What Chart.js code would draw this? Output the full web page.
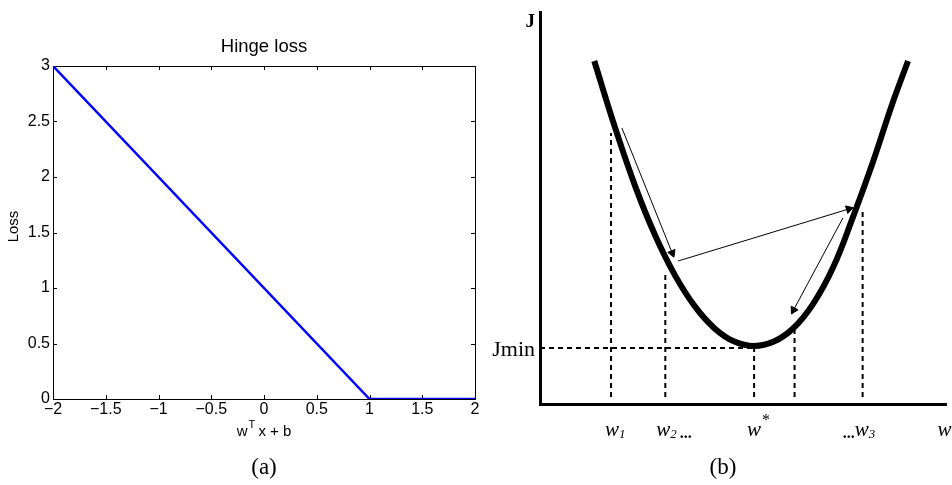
<!DOCTYPE html>
<html>
<head>
<meta charset="utf-8">
<script src="https://cdn.jsdelivr.net/npm/chart.js@4.4.1/dist/chart.umd.min.js"></script>
<style>
  html, body { margin: 0; padding: 0; background: #fff; }
  #wrapA { position: absolute; left: 0; top: 0; width: 490px; height: 485px; }
  #wrapB { position: absolute; left: 480px; top: 0; width: 472px; height: 485px; }
</style>
</head>
<body>
<div id="wrapA"><canvas id="hingeChart"></canvas></div>
<div id="wrapB"><canvas id="descentChart"></canvas></div>
<script>
// ---- panel (a): hinge loss ----
const hingeX = [-2, 1, 2];
const hingeLoss = [3, 0, 0];
const xTicksA = [-2, -1.5, -1, -0.5, 0, 0.5, 1, 1.5, 2];
const yTicksA = [0, 0.5, 1, 1.5, 2, 2.5, 3];

// ---- panel (b): gradient descent sketch (arbitrary units) ----
const curveW = [1.375, 1.925, 2.425, 2.925, 3.425, 3.925, 4.425, 4.925, 5.425, 5.925, 6.425, 6.925, 7.425, 7.925, 8.425, 8.925, 9.325];
const curveJ = [8.575, 6.84, 5.41, 4.2, 3.21, 2.44, 1.89, 1.56, 1.45, 1.56, 1.9, 2.51, 3.41, 4.66, 6.02, 7.5, 8.575];
const markW = [1.8, 3.175, 5.425, 6.45, 8.175];
const markTop = [6.775, 3.275, 1.4, 1.85, 4.85];
const markBottom = 0.175;
const jMin = 1.4;
const arrowFrom = [[2.075, 6.9], [3.5, 3.575], [7.675, 4.65]];
const arrowTo = [[3.35, 3.775], [7.825, 4.875], [6.425, 2.35]];

const sans = '"Liberation Sans", Arial, sans-serif';
const serif = '"Liberation Serif", "DejaVu Serif", serif';

function minusLabel(v) {
    return v < 0 ? '\u2212' + Math.abs(v) : String(v);
}

// box + inward ticks + titles, MATLAB style
const matlabFrame = {
    id: 'matlabFrame',
    beforeDatasetsDraw(chart) {
        const { ctx, chartArea: a, scales } = chart;
        ctx.save();
        ctx.strokeStyle = '#000';
        ctx.lineWidth = 1;
        ctx.strokeRect(Math.round(a.left) + 0.5, Math.round(a.top) + 0.5,
            Math.round(a.right - a.left), Math.round(a.bottom - a.top));
        ctx.beginPath();
        xTicksA.forEach(v => {
            const px = Math.round(scales.x.getPixelForValue(v)) + 0.5;
            ctx.moveTo(px, a.bottom); ctx.lineTo(px, a.bottom - 4);
            ctx.moveTo(px, a.top); ctx.lineTo(px, a.top + 4);
        });
        yTicksA.forEach(v => {
            const py = Math.round(scales.y.getPixelForValue(v)) + 0.5;
            ctx.moveTo(a.left, py); ctx.lineTo(a.left + 4, py);
            ctx.moveTo(a.right, py); ctx.lineTo(a.right - 4, py);
        });
        ctx.stroke();
        ctx.restore();
    },
    afterDraw(chart) {
        const { ctx, chartArea: a } = chart;
        const cx = (a.left + a.right) / 2;
        ctx.save();
        ctx.fillStyle = '#000';
        ctx.textBaseline = 'middle';
        ctx.textAlign = 'center';
        ctx.font = '18.5px ' + sans;
        ctx.fillText('Hinge loss', cx, 47);

        // x label with superscript T
        const p1 = 'w', p3 = ' x + b';
        ctx.font = '11px ' + sans;
        const wT = ctx.measureText('T').width;
        ctx.font = '15px ' + sans;
        const w1 = ctx.measureText(p1).width, w3 = ctx.measureText(p3).width;
        let x0 = cx - (w1 + wT + w3) / 2;
        ctx.textAlign = 'left';
        ctx.fillText(p1, x0, 432);
        ctx.font = '11px ' + sans;
        ctx.fillText('T', x0 + w1 + 1, 425);
        ctx.font = '15px ' + sans;
        ctx.fillText(p3, x0 + w1 + wT, 432);

        // y label
        ctx.save();
        ctx.translate(14, (a.top + a.bottom) / 2 - 6);
        ctx.rotate(-Math.PI / 2);
        ctx.textAlign = 'center';
        ctx.fillText('Loss', 0, 0);
        ctx.restore();

        ctx.textAlign = 'center';
        ctx.font = '23px ' + serif;
        ctx.fillText('(a)', cx, 468);
        ctx.restore();
    }
};

new Chart(document.getElementById('hingeChart'), {
    type: 'line',
    data: {
        datasets: [{
            data: hingeX.map((x, i) => ({ x: x, y: hingeLoss[i] })),
            borderColor: '#0000ff',
            borderWidth: 2.5,
            pointRadius: 0,
            tension: 0
        }]
    },
    options: {
        responsive: true,
        maintainAspectRatio: false,
        animation: false,
        layout: { padding: { top: 66, right: 15, left: 0, bottom: 0 } },
        plugins: { legend: { display: false }, tooltip: { enabled: false } },
        scales: {
            x: {
                type: 'linear', min: -2, max: 2,
                afterBuildTicks: s => { s.ticks = xTicksA.map(v => ({ value: v })); },
                ticks: { color: '#000', font: { family: sans, size: 16 }, padding: 1, maxRotation: 0, callback: minusLabel },
                grid: { display: false, drawTicks: false },
                border: { display: false },
                afterFit: s => { s.height = 86; }
            },
            y: {
                type: 'linear', min: 0, max: 3,
                afterBuildTicks: s => { s.ticks = yTicksA.map(v => ({ value: v })); },
                ticks: { color: '#000', font: { family: sans, size: 16 }, padding: 3, callback: minusLabel },
                grid: { display: false, drawTicks: false },
                border: { display: false },
                afterFit: s => { s.width = 53; }
            }
        }
    },
    plugins: [matlabFrame]
});

// ---- panel (b) ----
function arrowRotation(ctx) {
    const c = ctx.chart, d = ctx.dataset.data;
    const dx = c.scales.x.getPixelForValue(d[1].x) - c.scales.x.getPixelForValue(d[0].x);
    const dy = c.scales.y.getPixelForValue(d[1].y) - c.scales.y.getPixelForValue(d[0].y);
    return Math.atan2(dx, -dy) * 180 / Math.PI;
}

const descentSets = [{
    data: curveW.map((w, i) => ({ x: w, y: curveJ[i] })),
    borderColor: '#000',
    borderWidth: 6,
    pointRadius: 0,
    tension: 0.4,
    borderCapStyle: 'butt'
}];

arrowFrom.forEach((f, i) => {
    descentSets.push({
        data: [{ x: f[0], y: f[1] }, { x: arrowTo[i][0], y: arrowTo[i][1] }],
        borderColor: '#000',
        backgroundColor: '#000',
        borderWidth: 1,
        pointRadius: [0, 4.5],
        pointStyle: 'triangle',
        rotation: arrowRotation,
        tension: 0
    });
});

markW.forEach((w, i) => {
    descentSets.push({
        data: [{ x: w, y: markBottom }, { x: w, y: markTop[i] }],
        borderColor: '#000',
        borderWidth: 2,
        borderDash: [5, 4],
        pointRadius: 0
    });
});

descentSets.push({
    data: [{ x: 0, y: jMin }, { x: markW[2], y: jMin }],
    borderColor: '#000',
    borderWidth: 2,
    borderDash: [5, 4],
    pointRadius: 0
});

const descentText = {
    id: 'descentText',
    afterDraw(chart) {
        const { ctx, chartArea: a, scales } = chart;
        ctx.save();
        ctx.fillStyle = '#000';
        ctx.textBaseline = 'alphabetic';

        ctx.font = 'bold 19px ' + serif;
        ctx.textAlign = 'right';
        ctx.fillText('J', a.left - 5, 27);

        ctx.font = '22px ' + serif;
        ctx.fillText('Jmin', a.left - 5, scales.y.getPixelForValue(jMin) + 8);

        const base = a.bottom + 32;
        const wFont = 'italic 21px ' + serif;
        const subFont = 'italic 13px ' + serif;
        const dotFont = 'bold 16px ' + serif;
        ctx.textAlign = 'left';

        function wLabel(x, sub, star) {
            ctx.font = wFont;
            const ww = ctx.measureText('w').width;
            const left = x - ww / 2;
            ctx.fillText('w', left, base);
            let end = left + ww;
            if (sub) {
                ctx.font = subFont;
                ctx.fillText(sub, end, base + 2);
                end += ctx.measureText(sub).width;
            }
            if (star) {
                ctx.font = '16px ' + serif;
                ctx.fillText('*', end + 1, base - 11);
            }
            return { left: left, end: end };
        }

        wLabel(scales.x.getPixelForValue(markW[0]) + 1, '1');
        const w2 = wLabel(scales.x.getPixelForValue(markW[1]) - 2, '2');
        ctx.font = dotFont;
        ctx.fillText('...', w2.end + 3, base + 2);
        wLabel(scales.x.getPixelForValue(markW[2]), null, true);
        const w3 = wLabel(scales.x.getPixelForValue(markW[4]) - 1, '3');
        ctx.font = dotFont;
        ctx.textAlign = 'right';
        ctx.fillText('...', w3.left, base + 2);
        ctx.textAlign = 'left';
        ctx.font = wFont;
        ctx.fillText('w', a.right - 9, base);

        ctx.font = '23px ' + serif;
        ctx.textAlign = 'center';
        ctx.textBaseline = 'middle';
        ctx.fillText('(b)', 243, 468);
        ctx.restore();
    }
};

new Chart(document.getElementById('descentChart'), {
    type: 'line',
    data: { datasets: descentSets },
    options: {
        responsive: true,
        maintainAspectRatio: false,
        animation: false,
        layout: { padding: { top: 12, right: 0, left: 60, bottom: 81 } },
        plugins: { legend: { display: false }, tooltip: { enabled: false } },
        scales: {
            x: {
                type: 'linear', min: 0, max: 10.3,
                ticks: { display: false },
                grid: { display: false, drawTicks: false },
                border: { display: true, color: '#000', width: 3 },
                afterFit: s => { s.height = 0; }
            },
            y: {
                type: 'linear', min: 0, max: 9.8,
                ticks: { display: false },
                grid: { display: false, drawTicks: false },
                border: { display: true, color: '#000', width: 3 },
                afterFit: s => { s.width = 0; }
            }
        }
    },
    plugins: [descentText]
});
</script>
</body>
</html>
